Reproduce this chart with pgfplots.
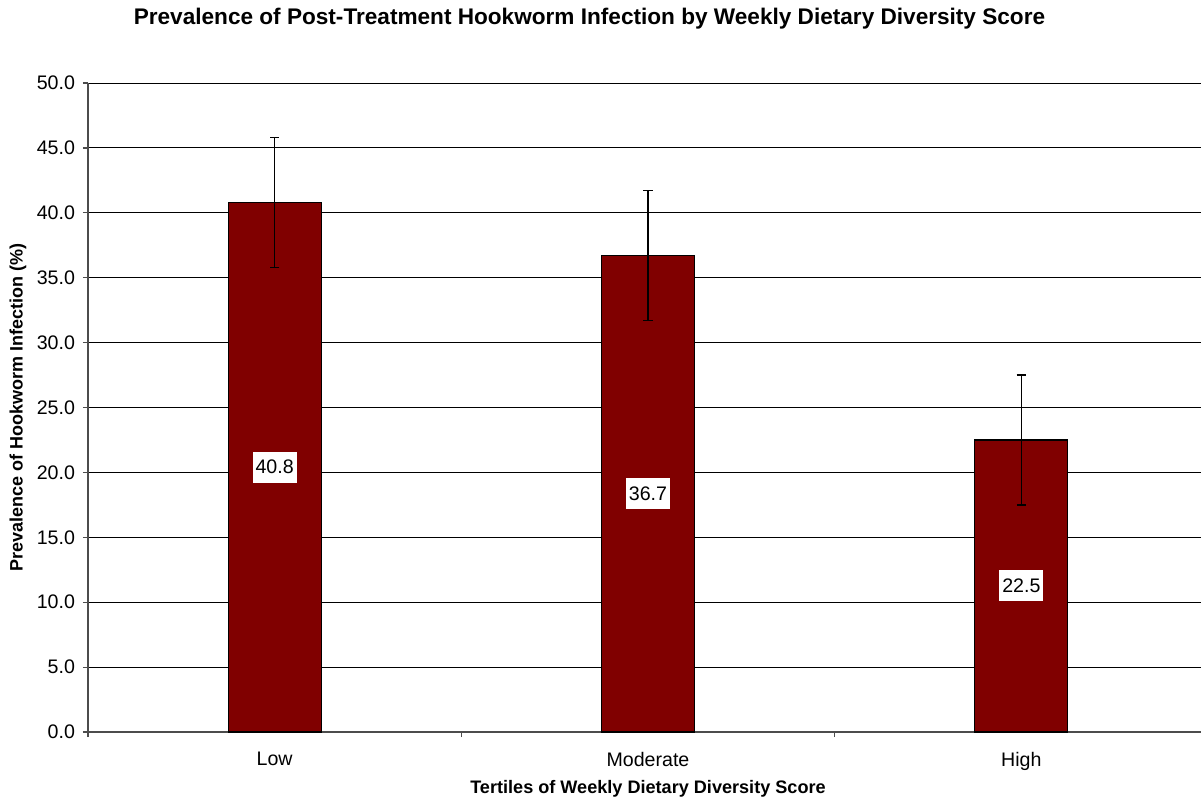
\documentclass[border=0pt]{standalone}
\usepackage{pgfplots}
\pgfplotsset{compat=1.18}
\usepackage{fontspec}
\setmainfont{Liberation Sans}
\definecolor{barred}{HTML}{800000}
\begin{document}
\begin{tikzpicture}[x=1pt,y=1pt]
% 1 px of the 1201x800 picture = 0.5pt
\path[use as bounding box] (-44,-34) rectangle (556.5,366);
\begin{axis}[
    at={(0,0)}, anchor=south west,
    scale only axis,
    width=560pt, height=324.5pt,
    ymin=0, ymax=50,
    xmin=-0.5, xmax=2.5,
    ytick={0,5,...,50},
    xtick={-0.5,0.5,1.5,2.5},
    x tick label as interval,
    xticklabels={Low,Moderate,High},
    yticklabel style={/pgf/number format/fixed, /pgf/number format/fixed zerofill,
        /pgf/number format/precision=1, xshift=-0.5pt},
    /pgf/number format/assume math mode=true,
    tick label style={font=\fontsize{9.8}{11}\selectfont},
    axis x line*=bottom, axis y line*=left,
    axis line style={draw=black!70, line width=0.8pt},
    tick align=outside,
    major tick length=2.5pt,
    tick style={black!70, line width=0.6pt},
    ymajorgrids,
    grid style={black, line width=0.5pt},
    xticklabel style={yshift=-4pt},
    clip=false,
    ]
    \addplot[ybar, bar width=46.5pt, fill=barred, draw=black, line width=0.6pt,
        error bars/.cd, y dir=both, y explicit,
        error bar style={black, line width=0.7pt},
        error mark options={rotate=90, mark size=2.3pt, line width=0.7pt}]
    coordinates {
        (0,40.8) +- (0,5.0)
        (1,36.7) +- (0,5.0)
        (2,22.5) +- (0,5.0)
    };
    \addplot[ybar, bar width=46.5pt, draw=none, fill=none,
        visualization depends on={y \as \rawy},
        nodes near coords,
        nodes near coords align=center,
        every node near coord/.append style={fill=white, inner xsep=1.5pt,
            minimum height=15.5pt, text=black,
            font=\fontsize{9.8}{11}\selectfont,
            /pgf/number format/fixed, /pgf/number format/fixed zerofill,
            /pgf/number format/precision=1,
            anchor=center, shift={(axis direction cs:0,-\rawy/2)}}]
    coordinates {(0,40.8) (1,36.7) (2,22.5)};
\end{axis}
\node[font=\bfseries\fontsize{11.3}{13}\selectfont] at (250.75,356.5) {Prevalence of Post-Treatment Hookworm Infection by Weekly Dietary Diversity Score};
\node[font=\bfseries\fontsize{9.05}{11}\selectfont] at (280,-28.5) {Tertiles of Weekly Dietary Diversity Score};
\node[font=\bfseries\fontsize{9}{11}\selectfont, rotate=90] at (-35,162.25) {Prevalence of Hookworm Infection (\%)};
\end{tikzpicture}
\end{document}
